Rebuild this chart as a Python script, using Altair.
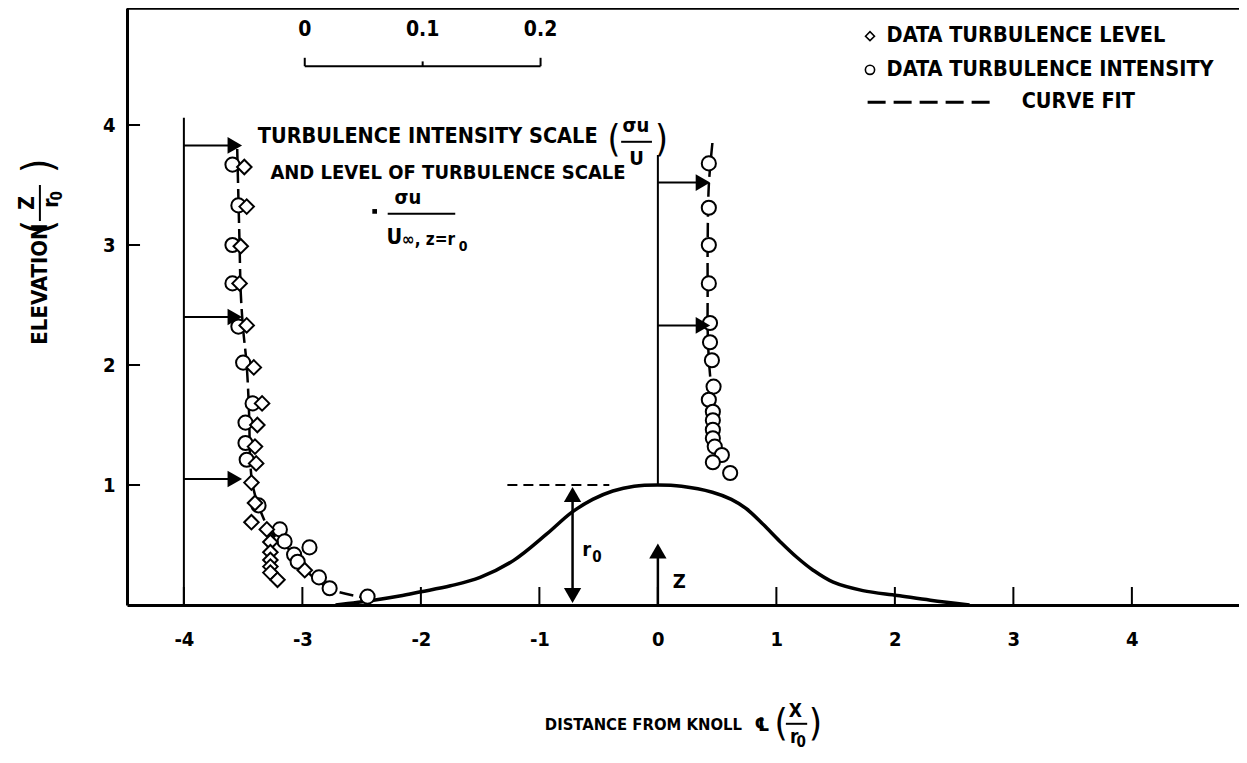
import altair as alt
import pandas as pd

FONT = "DejaVu Sans Condensed, Liberation Sans Narrow, DejaVu Sans, sans-serif"

# ---------------- data ----------------
# knoll profile (solid curve)
knoll_x = [-2.72, -2.4, -2.18, -2.0, -1.75, -1.5, -1.22, -0.94, -0.73, -0.55, -0.38, -0.2, 0.0,
           0.2, 0.46, 0.62, 0.75, 0.89, 1.03, 1.17, 1.31, 1.48, 1.73, 2.02, 2.30, 2.63]
knoll_z = [0.0, 0.04, 0.075, 0.11, 0.16, 0.23, 0.37, 0.59, 0.77, 0.88, 0.95, 0.99, 1.0,
           0.99, 0.94, 0.88, 0.80, 0.67, 0.53, 0.40, 0.29, 0.19, 0.12, 0.08, 0.04, 0.0]

# upstream profile (x = -4 station)
left_circ_x = [-3.59, -3.54, -3.59, -3.59, -3.54, -3.50, -3.42, -3.48, -3.48, -3.47, -3.37,
               -3.19, -3.15, -2.94, -3.07, -3.04, -2.86, -2.77, -2.45]
left_circ_z = [3.67, 3.33, 3.0, 2.68, 2.32, 2.02, 1.68, 1.52, 1.35, 1.21, 0.83,
               0.63, 0.53, 0.48, 0.42, 0.36, 0.23, 0.14, 0.07]
left_diam_x = [-3.49, -3.47, -3.52, -3.53, -3.47, -3.41, -3.34, -3.38, -3.40, -3.39, -3.43,
               -3.40, -3.43, -3.30, -3.27, -3.27, -3.27, -3.27, -3.27, -3.21, -2.98]
left_diam_z = [3.65, 3.32, 2.99, 2.68, 2.33, 1.98, 1.68, 1.50, 1.32, 1.18, 1.02,
               0.85, 0.69, 0.63, 0.525, 0.44, 0.375, 0.32, 0.27, 0.21, 0.29]
left_fit_x = [-3.55, -3.54, -3.53, -3.52, -3.50, -3.47, -3.45, -3.44, -3.42, -3.36, -3.26,
              -3.10, -2.98, -2.87, -2.73, -2.47]
left_fit_z = [3.80, 3.4, 3.0, 2.6, 2.3, 2.0, 1.6, 1.2, 1.0, 0.8, 0.6, 0.45, 0.3, 0.2, 0.12, 0.06]

# crest profile (x = 0 station)
right_circ_x = [0.43, 0.43, 0.43, 0.43, 0.44, 0.44, 0.456, 0.47, 0.43, 0.464, 0.464, 0.464,
                0.464, 0.48, 0.54, 0.464, 0.61]
right_circ_z = [3.68, 3.31, 3.0, 2.68, 2.35, 2.19, 2.04, 1.82, 1.71, 1.61, 1.54, 1.46,
                1.39, 1.32, 1.25, 1.19, 1.10]
right_fit_x = [0.46, 0.43, 0.42, 0.42, 0.42, 0.43, 0.45, 0.47, 0.48, 0.50]
right_fit_z = [3.85, 3.5, 3.0, 2.6, 2.3, 2.05, 1.8, 1.5, 1.3, 1.22]

# turbulence arrows
left_arrow_z = [3.83, 2.40, 1.05]
right_arrow_z = [3.52, 2.33]

x_ticks = [-4, -3, -2, -1, 0, 1, 2, 3, 4]
y_ticks = [1, 2, 3, 4]
bar_ticks = [0.0, 0.1, 0.2]
bar_labels = ["0", "0.1", "0.2"]

# ---------------- layout helpers ----------------
X_DOM = [-4.48, 4.904]
Y_DOM = [0, 4.975]
XS = alt.Scale(domain=X_DOM, nice=False, zero=False)
YS = alt.Scale(domain=Y_DOM, nice=False, zero=False)
AX = alt.Axis(values=x_ticks, labelExpr="datum.value", grid=False, ticks=False, title=None,
              domainWidth=3, domainColor="black", labelFont=FONT, labelFontSize=20,
              labelFontWeight="bold", labelColor="black", labelPadding=24)
AY = alt.Axis(values=y_ticks, grid=False, ticks=False, title=None, domainWidth=3,
              domainColor="black", labelFont=FONT, labelFontSize=20,
              labelFontWeight="bold", labelColor="black", labelPadding=12)


def X(f="x"):
    return alt.X(f"{f}:Q", scale=XS, axis=AX, title=None)


def Y(f="z"):
    return alt.Y(f"{f}:Q", scale=YS, axis=AY, title=None)


def rules(rows, width=2, dash=None):
    df = pd.DataFrame(rows, columns=["x", "x2", "z", "z2"])
    kw = dict(color="black", strokeWidth=width, strokeCap="butt")
    if dash:
        kw["strokeDash"] = dash
    return alt.Chart(df).mark_rule(**kw).encode(
        x=X("x"), x2="x2:Q", y=Y("z"), y2="z2:Q")


def heads(rows, shape, size=280):
    df = pd.DataFrame(rows, columns=["x", "z"])
    return alt.Chart(df).mark_point(shape=shape, filled=True, color="black", size=size,
                                    opacity=1).encode(x=X(), y=Y())


def texts(rows, size=22, align="left", angle=0, weight="bold"):
    df = pd.DataFrame(rows, columns=["t", "x", "z"])
    return alt.Chart(df).mark_text(font=FONT, fontSize=size, fontWeight=weight, align=align,
                                   baseline="middle", angle=angle, color="black").encode(
        x=X(), y=Y(), text="t:N")


# ---------------- layers ----------------
knoll_df = pd.DataFrame({"x": knoll_x, "z": knoll_z})
knoll = alt.Chart(knoll_df).mark_line(color="black", strokeWidth=3.5,
                                      interpolate="catmull-rom").encode(x=X(), y=Y())

fit_df = pd.concat([
    pd.DataFrame({"x": left_fit_x, "z": left_fit_z, "s": "L", "o": range(len(left_fit_x))}),
    pd.DataFrame({"x": right_fit_x, "z": right_fit_z, "s": "R", "o": range(len(right_fit_x))}),
])
fit = alt.Chart(fit_df).mark_line(color="black", strokeWidth=2.5, strokeDash=[14, 6],
                                  interpolate="catmull-rom").encode(
    x=X(), y=Y(), detail="s:N", order="o:Q")

circ_df = pd.DataFrame({"x": left_circ_x + right_circ_x, "z": left_circ_z + right_circ_z})
circles = alt.Chart(circ_df).mark_point(shape="circle", filled=True, fill="white", stroke="black",
                                        strokeWidth=2, size=200, opacity=1).encode(x=X(), y=Y())
diam_df = pd.DataFrame({"x": left_diam_x, "z": left_diam_z})
diamonds = alt.Chart(diam_df).mark_point(shape="diamond", filled=True, fill="white", stroke="black",
                                         strokeWidth=2, size=210, opacity=1).encode(x=X(), y=Y())

frame_top = rules([[X_DOM[0], X_DOM[1], Y_DOM[1], Y_DOM[1]]], width=3.5)
xtick = rules([[t, t, 0, 0.15] for t in x_ticks], width=2)
ytick = rules([[X_DOM[0], X_DOM[0] + 0.11, t, t] for t in y_ticks], width=2)

stations = rules([[-4, -4, 0, 4.06], [0, 0, 1.0, 3.75]], width=2)
arrows = rules([[-4, -3.53, z, z] for z in left_arrow_z] +
               [[0, 0.40, z, z] for z in right_arrow_z], width=2)
arrow_heads = heads([[-3.57, z] for z in left_arrow_z] + [[0.38, z] for z in right_arrow_z],
                    "triangle-right")

crest_dash = rules([[-1.27, -0.41, 1.0, 1.0]], width=2.2, dash=[10, 6])
vert = rules([[-0.72, -0.72, 0.05, 0.95], [0, 0, 0, 0.48]], width=2.5)
vheads_up = heads([[-0.72, 0.92], [0, 0.45]], "triangle-up", 300)
vheads_dn = heads([[-0.72, 0.08]], "triangle-down", 300)

# scale bar
bar_x0, bar_unit = -2.98, 9.95
scale_bar = rules([[bar_x0, bar_x0 + 0.2 * bar_unit, 4.49, 4.49]] +
                  [[bar_x0 + t * bar_unit, bar_x0 + t * bar_unit, 4.49, 4.56 if t != 0.1 else 4.53]
                   for t in bar_ticks], width=2)
bar_text = texts([[l, bar_x0 + t * bar_unit, 4.79] for l, t in zip(bar_labels, bar_ticks)],
                 size=21, align="center")

# fraction bars
frac_bars = rules([[-0.31, -0.05, 3.86, 3.86], [-2.28, -1.71, 3.26, 3.26],
                   [1.08, 1.26, -0.99, -0.99]], width=2)
frac_bar_y = rules([[-5.215, -5.215, 3.2, 3.5]], width=2)
eq_dot = alt.Chart(pd.DataFrame({"x": [-2.39], "z": [3.28]})).mark_point(
    shape="square", filled=True, color="black", size=22, opacity=1).encode(x=X(), y=Y())

main_text = texts([
    ["TURBULENCE INTENSITY SCALE", -3.376, 3.90],
    ["DATA TURBULENCE LEVEL", 1.93, 4.74],
    ["DATA TURBULENCE INTENSITY", 1.93, 4.46],
    ["CURVE FIT", 3.07, 4.19],
    ["U", -2.29, 3.06],
], size=21.5)
level_text = texts([["AND LEVEL OF TURBULENCE SCALE", -3.27, 3.60]], size=20)
xtitle = texts([["DISTANCE FROM KNOLL", -0.954, -1.0]], size=16.5)
small_text = texts([["∞, z=r", -2.16, 3.04]], size=17)
sub_text = texts([["0", -1.68, 2.98]], size=14)

center_text = texts([
    ["σu", -0.186, 3.99], ["U", -0.18, 3.72], ["σu", -2.11, 3.39],
    ["r", -0.60, 0.46], ["Z", 0.18, 0.19],
], size=20, align="center")
xtitle_parts = texts([["℄", 0.88, -1.0], ["X", 1.16, -0.88], ["r", 1.15, -1.10]], size=19,
                     align="center")
center_sub = texts([["0", -0.515, 0.40], ["0", 1.21, -1.14]], size=15, align="center")
parens = texts([["(", -0.37, 3.87], [")", 0.03, 3.87]], size=37, align="center", weight="normal")
xparens = texts([["(", 1.04, -0.99], [")", 1.33, -0.99]], size=38, align="center", weight="normal")

# y title (rotated)
ytitle = texts([["ELEVATION", -5.215, 2.675]], size=22, align="center", angle=270)
ytitle_frac = texts([["Z", -5.316, 3.35], ["r", -5.114, 3.35]], size=21, align="center", angle=270)
ytitle_sub = texts([["0", -5.07, 3.41]], size=15, align="center", angle=270)
ytitle_par = texts([["(", -5.215, 3.15], [")", -5.215, 3.66]], size=42, align="center",
                   angle=270, weight="normal")

# legend symbols
leg_d = alt.Chart(pd.DataFrame({"x": [1.79], "z": [4.74]})).mark_point(
    shape="diamond", filled=True, fill="white", stroke="black", strokeWidth=1.6, size=80,
    opacity=1).encode(x=X(), y=Y())
leg_c = alt.Chart(pd.DataFrame({"x": [1.79], "z": [4.46]})).mark_point(
    shape="circle", filled=True, fill="white", stroke="black", strokeWidth=1.6, size=85,
    opacity=1).encode(x=X(), y=Y())
leg_line = rules([[1.77, 2.80, 4.19, 4.19]], width=3, dash=[18, 8])

chart = alt.layer(
    knoll, frame_top, xtick, ytick, stations, arrows, crest_dash, vert, vheads_up, vheads_dn,
    fit, circles, diamonds, arrow_heads, scale_bar, bar_text, frac_bars, frac_bar_y, eq_dot,
    main_text, level_text, xtitle, small_text, sub_text, center_text, xtitle_parts, center_sub,
    parens, xparens, ytitle, ytitle_frac, ytitle_sub, ytitle_par, leg_d, leg_c, leg_line,
).properties(
    width=1112, height=597, autosize="none",
    padding={"left": 119, "top": 0, "right": 0, "bottom": 146},
).configure_view(stroke=None).configure(background="white")

chart.save("out.html", embed_options={"renderer": "svg", "actions": False})
